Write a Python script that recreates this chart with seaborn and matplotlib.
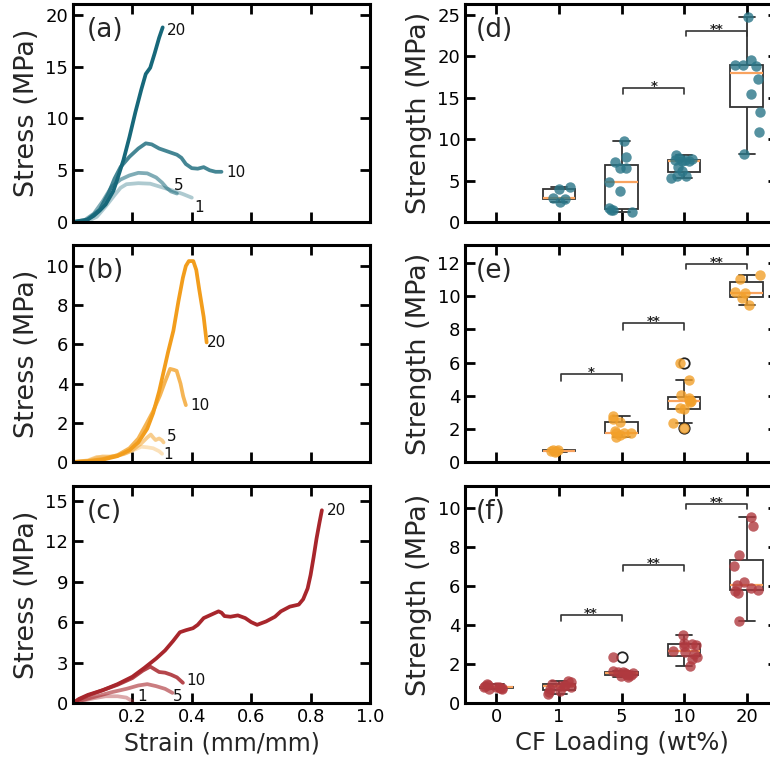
import numpy as np
import pandas as pd
import matplotlib
matplotlib.use("Agg")
import matplotlib.pyplot as plt
import seaborn as sns

# ---------------- data: stress-strain curves ----------------
# (a) teal
a1_x = [0, 0.05, 0.08, 0.11, 0.14, 0.16, 0.18, 0.22, 0.26, 0.30, 0.34, 0.37, 0.40]
a1_y = [0, 0.1, 0.5, 1.5, 2.6, 3.3, 3.65, 3.75, 3.7, 3.35, 3.0, 2.7, 2.35]
a5_x = [0, 0.04, 0.07, 0.10, 0.13, 0.16, 0.19, 0.22, 0.25, 0.28, 0.30, 0.315, 0.33, 0.35]
a5_y = [0, 0.2, 0.8, 2.0, 3.4, 4.1, 4.5, 4.75, 4.7, 4.3, 3.8, 3.3, 2.95, 2.75]
a10_x = [0, 0.05, 0.09, 0.12, 0.14, 0.16, 0.19, 0.22, 0.245, 0.265, 0.29, 0.32, 0.35,
         0.365, 0.38, 0.40, 0.42, 0.44, 0.46, 0.48, 0.50]
a10_y = [0, 0.25, 1.2, 2.8, 4.2, 5.3, 6.3, 7.1, 7.6, 7.5, 7.1, 6.8, 6.5,
         6.2, 5.6, 5.2, 5.15, 5.3, 5.0, 4.85, 4.85]
a20_x = [0, 0.03, 0.05, 0.07, 0.09, 0.11, 0.136, 0.15, 0.17, 0.19, 0.21, 0.23, 0.245,
         0.26, 0.275, 0.29, 0.302]
a20_y = [0, 0.05, 0.25, 0.6, 1.1, 1.7, 3.0, 4.2, 6.0, 8.2, 10.6, 12.8, 14.3,
         14.9, 16.3, 17.8, 18.8]
# (b) orange
b1_x = [0, 0.05, 0.08, 0.10, 0.14, 0.18, 0.21, 0.23, 0.25, 0.27, 0.29, 0.30]
b1_y = [0, 0.05, 0.2, 0.3, 0.28, 0.45, 0.65, 0.78, 0.75, 0.7, 0.55, 0.42]
b5_x = [0, 0.05, 0.08, 0.12, 0.17, 0.20, 0.23, 0.25, 0.262, 0.27, 0.278, 0.29, 0.30, 0.305]
b5_y = [0, 0.08, 0.25, 0.25, 0.4, 0.6, 0.95, 1.25, 1.4, 1.25, 1.12, 1.2, 1.1, 1.0]
b10_x = [0, 0.05, 0.10, 0.15, 0.19, 0.22, 0.248, 0.27, 0.293, 0.31, 0.327, 0.34,
         0.349, 0.355, 0.362, 0.371, 0.38]
b10_y = [0, 0.05, 0.15, 0.35, 0.7, 1.2, 1.97, 2.6, 3.4, 4.1, 4.75, 4.7,
         4.65, 4.35, 4.0, 3.35, 2.9]
b20_x = [0, 0.05, 0.10, 0.15, 0.19, 0.22, 0.25, 0.27, 0.29, 0.305, 0.32, 0.338, 0.355,
         0.37, 0.38, 0.39, 0.405, 0.415, 0.425, 0.44, 0.45]
b20_y = [0, 0.02, 0.12, 0.3, 0.6, 1.0, 1.7, 2.5, 3.6, 4.6, 5.6, 6.7, 8.2,
         9.4, 10.0, 10.25, 10.25, 9.8, 8.8, 7.4, 6.1]
# (c) red
c1_x = [0, 0.03, 0.07, 0.11, 0.15, 0.18, 0.20]
c1_y = [0, 0.15, 0.35, 0.5, 0.5, 0.4, 0.12]
c5_x = [0, 0.03, 0.08, 0.13, 0.18, 0.22, 0.25, 0.28, 0.31, 0.335]
c5_y = [0, 0.2, 0.5, 0.8, 1.05, 1.3, 1.4, 1.25, 1.05, 0.75]
c10_x = [0, 0.02, 0.05, 0.10, 0.15, 0.20, 0.235, 0.26, 0.275, 0.29, 0.31, 0.33, 0.35, 0.37]
c10_y = [0, 0.25, 0.55, 0.95, 1.35, 1.85, 2.4, 2.7, 2.5, 2.3, 2.25, 2.1, 1.9, 1.5]
c20_x = [0, 0.02, 0.05, 0.10, 0.15, 0.20, 0.24, 0.28, 0.31, 0.337, 0.36, 0.38, 0.404,
         0.42, 0.44, 0.47, 0.49, 0.50, 0.51, 0.53, 0.555, 0.58, 0.60, 0.62, 0.65,
         0.68, 0.70, 0.73, 0.76, 0.775, 0.79, 0.80, 0.81, 0.82, 0.83, 0.838]
c20_y = [0, 0.3, 0.6, 0.95, 1.4, 1.95, 2.6, 3.3, 3.9, 4.6, 5.25, 5.4, 5.55,
         5.8, 6.3, 6.6, 6.8, 6.7, 6.45, 6.4, 6.5, 6.3, 6.0, 5.8, 6.05,
         6.4, 6.8, 7.15, 7.3, 7.7, 8.5, 9.5, 10.8, 12.2, 13.4, 14.3]

curve_labels = ["1", "5", "10", "20"]

# ---------------- data: strength box plots ----------------
loadings = ["0", "1", "5", "10", "20"]
d_1 = [2.42, 2.78, 2.9, 3.95, 4.23]
d_5 = [1.25, 1.4, 1.5, 1.7, 3.8, 4.8, 6.5, 6.5, 7.2, 7.8, 9.8]
d_10 = [5.3, 5.5, 5.6, 6.1, 6.6, 7.3, 7.4, 7.45, 7.5, 7.6, 7.7, 8.1]
d_20 = [8.2, 10.8, 13.3, 15.5, 17.2, 18.8, 18.9, 19.0, 19.6, 24.7]
e_1 = [0.6, 0.65, 0.67, 0.7, 0.74]
e_5 = [1.5, 1.6, 1.75, 1.76, 1.78, 1.85, 2.4, 2.6, 2.8]
e_10 = [2.06, 2.36, 3.2, 3.25, 3.6, 3.68, 3.75, 3.85, 4.05, 4.94, 6.0]
e_20 = [9.45, 9.88, 10.18, 10.28, 11.03, 11.3]
f_0 = [0.7, 0.72, 0.75, 0.78, 0.8, 0.8, 0.82, 0.85, 0.9, 0.95]
f_1 = [0.46, 0.54, 0.63, 0.7, 0.8, 0.85, 0.88, 0.93, 0.97, 1.08, 1.13]
f_5 = [1.35, 1.4, 1.42, 1.45, 1.5, 1.55, 1.56, 1.58, 1.6, 1.62, 2.36]
f_10 = [1.9, 2.25, 2.35, 2.5, 2.6, 2.66, 2.9, 2.97, 3.02, 3.05, 3.5]
f_20 = [4.19, 5.63, 5.75, 5.8, 5.9, 6.02, 6.2, 7.0, 7.58, 9.07, 9.5]

# significance brackets: (from, to, top, leg, text)
d_sig = [(2, 3, 16.2, 15.4, "*"), (3, 4, 23.1, 22.4, "**")]
e_sig = [(1, 2, 5.3, 4.9, "*"), (2, 3, 8.37, 7.96, "**"), (3, 4, 11.96, 11.63, "**")]
f_sig = [(1, 2, 4.52, 4.19, "**"), (2, 3, 7.07, 6.73, "**"), (3, 4, 10.17, 9.9, "**")]

TEAL = "#17687a"
ORANGE = "#f29d1c"
RED = "#a8262c"
TEAL_PT = "#2a7688"
ORANGE_PT = "#f2a02a"
RED_PT = "#b0393f"

# ---------------- style ----------------
sns.set_style("ticks")
plt.rcParams.update({
    "font.family": ["DejaVu Sans"],
    "xtick.direction": "in", "ytick.direction": "in",
    "xtick.top": True, "ytick.right": True,
    "xtick.major.size": 7, "ytick.major.size": 7,
    "xtick.major.width": 2.0, "ytick.major.width": 2.0,
    "axes.linewidth": 2.2,
    "axes.edgecolor": "black",
    "xtick.color": "black", "ytick.color": "black",
    "xtick.labelsize": 13, "ytick.labelsize": 13,
})
YLAB = 19.5
XLAB = 17

fig = plt.figure(figsize=(7.7, 7.65), dpi=100)
W, H = 770.0, 765.0

def ax_at(x0, x1, top, bot):
    return fig.add_axes([x0 / W, (H - bot) / H, (x1 - x0) / W, (bot - top) / H])

rows = [(4, 222), (245, 462), (486, 703)]
left_axes = [ax_at(73, 370, t, b) for t, b in rows]
right_axes = [ax_at(465, 778, t, b) for t, b in rows]

# ---------------- left: curves ----------------
curve_sets = [
    ([(a1_x, a1_y), (a5_x, a5_y), (a10_x, a10_y), (a20_x, a20_y)], TEAL, [0.35, 0.55, 0.8, 1.0],
     21.06, [0, 5, 10, 15, 20],
     [(0.41, 1.4), (0.34, 3.5), (0.515, 4.8), (0.315, 18.5)]),
    ([(b1_x, b1_y), (b5_x, b5_y), (b10_x, b10_y), (b20_x, b20_y)], ORANGE, [0.3, 0.5, 0.75, 1.0],
     11.07, [0, 2, 4, 6, 8, 10],
     [(0.305, 0.4), (0.316, 1.3), (0.396, 2.9), (0.45, 6.1)]),
    ([(c1_x, c1_y), (c5_x, c5_y), (c10_x, c10_y), (c20_x, c20_y)], RED, [0.4, 0.6, 0.85, 1.0],
     16.1, [0, 3, 6, 9, 12, 15],
     [(0.215, 0.5), (0.337, 0.5), (0.383, 1.7), (0.855, 14.3)]),
]
panel_left = ["(a)", "(b)", "(c)"]
for i, (ax, (curves, col, alphas, ymax, yt, lab_pos)) in enumerate(zip(left_axes, curve_sets)):
    for (xs, ys), al in zip(curves, alphas):
        sns.lineplot(x=xs, y=ys, sort=False, estimator=None, ax=ax, color=col,
                     alpha=al, lw=2.7, solid_capstyle="round")
    for lab, (lx, ly) in zip(curve_labels, lab_pos):
        ax.text(lx, ly, lab, fontsize=11, ha="left", va="center", color="#111111")
    ax.set_xlim(0, 1.0)
    ax.set_ylim(0, ymax)
    ax.set_yticks(yt)
    ax.set_xticks([0.2, 0.4, 0.6, 0.8, 1.0])
    ax.set_ylabel("Stress (MPa)", fontsize=YLAB)
    if i < 2:
        ax.set_xticklabels([])
        ax.set_xlabel("")
    else:
        ax.set_xticklabels(["0.2", "0.4", "0.6", "0.8", "1.0"])
        ax.set_xlabel("Strain (mm/mm)", fontsize=XLAB)
    ax.text(0.045, 0.94, panel_left[i], transform=ax.transAxes, fontsize=19,
            ha="left", va="top")

# ---------------- right: box plots ----------------
def make_df(groups):
    recs = []
    for lab, vals in groups:
        for v in vals:
            recs.append((lab, v))
    return pd.DataFrame(recs, columns=["load", "val"])

box_sets = [
    (make_df([("1", d_1), ("5", d_5), ("10", d_10), ("20", d_20)]), TEAL_PT, 26.3,
     [0, 5, 10, 15, 20, 25], d_sig),
    (make_df([("1", e_1), ("5", e_5), ("10", e_10), ("20", e_20)]), ORANGE_PT, 13.1,
     [0, 2, 4, 6, 8, 10, 12], e_sig),
    (make_df([("0", f_0), ("1", f_1), ("5", f_5), ("10", f_10), ("20", f_20)]), RED_PT, 11.1,
     [0, 2, 4, 6, 8, 10], f_sig),
]
panel_right = ["(d)", "(e)", "(f)"]
np.random.seed(3)
for i, (ax, (df, col, ymax, yt, sigs)) in enumerate(zip(right_axes, box_sets)):
    sns.boxplot(data=df, x="load", y="val", order=loadings, width=0.52, color="white",
                linecolor="#333333", linewidth=1.3,
                medianprops=dict(color="#f9a35f", linewidth=1.6),
                flierprops=dict(marker="o", markerfacecolor="none",
                                markeredgecolor="#222222", markersize=7.5,
                                markeredgewidth=1.3),
                ax=ax)
    sns.stripplot(data=df, x="load", y="val", order=loadings, color=col, alpha=0.8,
                  size=7.5, jitter=0.22, linewidth=0, ax=ax, zorder=3)
    for (a, b, top, leg, txt) in sigs:
        xa = a + 0.03
        ax.plot([xa, xa, b, b], [leg, top, top, leg], color="#333333", lw=1.2, zorder=4)
        ax.annotate(txt, xy=((xa + b) / 2, top), xytext=(0, -1.5), textcoords="offset points",
                    ha="center", va="baseline", fontsize=9.5, fontweight="bold")
    ax.set_xlim(-0.5, 4.5)
    ax.set_ylim(0, ymax)
    ax.set_yticks(yt)
    ax.set_ylabel("Strength (MPa)", fontsize=YLAB)
    if i < 2:
        ax.set_xticklabels([])
        ax.set_xlabel("")
    else:
        ax.set_xlabel("CF Loading (wt%)", fontsize=XLAB + 0.5)
    ax.text(0.035, 0.94, panel_right[i], transform=ax.transAxes, fontsize=19,
            ha="left", va="top")

for ax in left_axes + right_axes:
    ax.tick_params(which="both", top=True, right=True, direction="in",
                   length=7, width=2.0)
    for s in ax.spines.values():
        s.set_linewidth(2.2)
        s.set_visible(True)

fig.savefig("out.png", dpi=100)
